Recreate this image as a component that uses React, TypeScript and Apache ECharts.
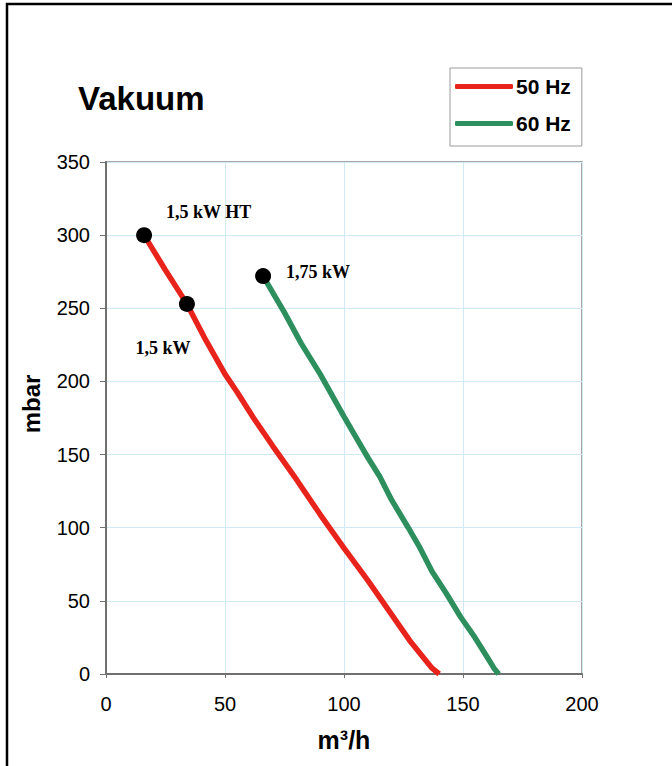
import React, { useEffect, useRef } from "react";
import * as echarts from "echarts";

const xTicks = [0, 50, 100, 150, 200];
const yTicks = [0, 50, 100, 150, 200, 250, 300, 350];

const seriesNames = ["50 Hz", "60 Hz"];

const flow50 = [16, 25, 34, 42, 50, 55, 62, 70, 80, 90, 100, 110, 116, 122, 128, 133, 137, 140];
const vac50 = [300, 276, 253, 228, 205, 193, 175, 156, 133, 109, 86, 64, 50, 36, 22, 12, 4, 0];

const flow60 = [66, 75, 82, 90, 100, 105, 110, 115, 120, 127, 132, 137, 143, 149, 155, 160, 163, 165];
const vac60 = [272, 247, 226, 205, 176, 162, 148, 135, 119, 100, 86, 70, 55, 39, 25, 12, 4, 0];

const pointFlow = [16, 34, 66];
const pointVac = [300, 253, 272];
const pointLabels = ["1,5 kW HT", "1,5 kW", "1,75 kW"];

const SANS = "'Liberation Sans', Arial, sans-serif";
const SERIF = "'Liberation Serif', 'Times New Roman', serif";

export default function App() {
  const ref = useRef<HTMLDivElement>(null);

  useEffect(() => {
    if (!ref.current) return;
    const chart = echarts.init(ref.current, undefined, { renderer: "svg" });

    const labelPlacement = [
      { position: "right", offset: [9, -23] },
      { position: "bottom", offset: [-24, 22] },
      { position: "right", offset: [10, -4] },
    ];

    const option: any = {
      animation: false,
      backgroundColor: "#ffffff",
      grid: {
        left: 106,
        right: 90,
        top: 162,
        bottom: 92,
        show: true,
        borderColor: "#8a8a8a",
        borderWidth: 1.5,
        containLabel: false,
      },
      legend: {
        orient: "vertical",
        left: 450,
        top: 68,
        data: seriesNames.map((n) => ({ name: n, icon: "roundRect" })),
        itemWidth: 58,
        itemHeight: 5,
        itemGap: 16,
        padding: [8, 11, 12, 5],
        borderColor: "#9a9a9a",
        borderWidth: 1,
        textStyle: {
          fontFamily: SANS,
          fontWeight: "bold",
          fontSize: 21,
          color: "#000",
          padding: [0, 0, 0, -2],
        },
      },
      xAxis: {
        type: "value",
        min: 0,
        max: 200,
        interval: 50,
        name: "m³/h",
        nameLocation: "middle",
        nameGap: 53,
        nameTextStyle: {
          fontFamily: SANS,
          fontWeight: "bold",
          fontSize: 25,
          color: "#000",
          verticalAlign: "top",
        },
        axisLine: { show: true, lineStyle: { color: "#707070", width: 2 } },
        axisTick: { show: true, length: 4, lineStyle: { color: "#707070", width: 1 } },
        axisLabel: {
          margin: 20,
          fontFamily: SANS,
          fontSize: 20,
          color: "#000",
          formatter: (v: number) => String(v),
        },
        splitLine: { show: true, lineStyle: { color: "#cfe9f5", width: 1 } },
      },
      yAxis: {
        type: "value",
        min: 0,
        max: 350,
        interval: 50,
        axisLine: { show: true, lineStyle: { color: "#707070", width: 2 } },
        axisTick: { show: true, length: 6, lineStyle: { color: "#707070", width: 1 } },
        axisLabel: {
          margin: 16,
          fontFamily: SANS,
          fontSize: 20,
          color: "#000",
          formatter: (v: number) => String(v),
        },
        splitLine: { show: true, lineStyle: { color: "#cfe9f5", width: 1 } },
      },
      series: [
        {
          name: seriesNames[0],
          type: "line",
          data: flow50.map((x, i) => [x, vac50[i]]),
          showSymbol: false,
          symbol: "none",
          color: "#e8231c",
          lineStyle: { color: "#e8231c", width: 5.5 },
          z: 2,
        },
        {
          name: seriesNames[1],
          type: "line",
          data: flow60.map((x, i) => [x, vac60[i]]),
          showSymbol: false,
          symbol: "none",
          color: "#2e8f5e",
          lineStyle: { color: "#2e8f5e", width: 5.5 },
          z: 2,
        },
        {
          name: "points",
          type: "scatter",
          symbol: "circle",
          symbolSize: 16,
          itemStyle: { color: "#000", opacity: 1 },
          z: 5,
          data: pointFlow.map((x, i) => ({
            value: [x, pointVac[i]],
            label: {
              show: true,
              formatter: pointLabels[i],
              position: labelPlacement[i].position,
              offset: labelPlacement[i].offset,
              fontFamily: SERIF,
              fontWeight: "bold",
              fontSize: 18,
              color: "#000",
            },
          })),
        },
      ],
      graphic: [
        {
          type: "rect",
          shape: { x: 7, y: 4, width: 720, height: 820 },
          style: { fill: "none", stroke: "#000", lineWidth: 2.5 },
          silent: true,
        },
        {
          type: "text",
          x: 78,
          y: 98,
          style: {
            text: "Vakuum",
            fontFamily: SANS,
            fontWeight: "bold",
            fontSize: 33,
            fill: "#000",
            textAlign: "left",
            textVerticalAlign: "middle",
          },
        },
        {
          type: "text",
          x: 31,
          y: 404,
          rotation: Math.PI / 2,
          style: {
            text: "mbar",
            fontFamily: SANS,
            fontWeight: "bold",
            fontSize: 24,
            fill: "#000",
            textAlign: "center",
            textVerticalAlign: "middle",
          },
        },
      ],
    };

    chart.setOption(option);
    return () => chart.dispose();
  }, []);

  return (
    <div
      ref={ref}
      style={{ position: "fixed", left: 0, top: 0, width: 672, height: 766, background: "#fff" }}
    />
  );
}
